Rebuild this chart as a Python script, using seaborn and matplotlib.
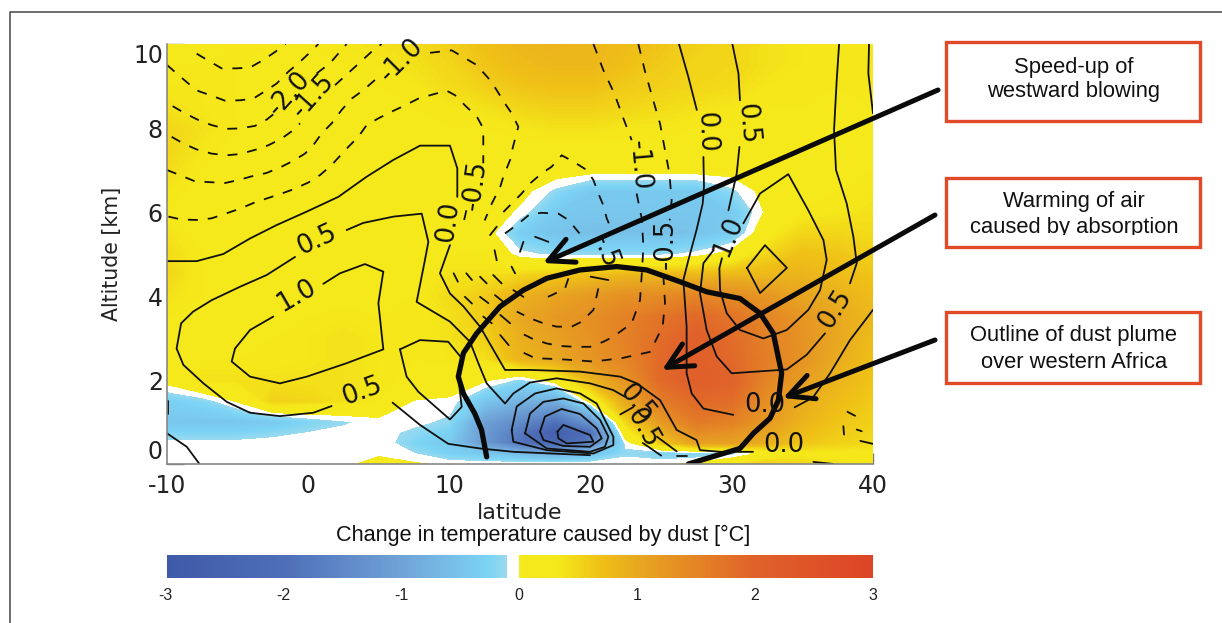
import numpy as np
import matplotlib
matplotlib.use("Agg")
import matplotlib.pyplot as plt
import seaborn as sns
from matplotlib.colors import LinearSegmentedColormap
from matplotlib.patches import Rectangle

# eixos do campo de temperatura
lat = [-10, -7.5, -5, -2.5, 0, 2.5, 5, 7.5, 10, 12.5, 15, 17.5, 20, 22.5, 25, 27.5, 30, 32.5, 35, 37.5, 40]
alt = [0, 0.25, 0.5, 0.75, 1, 1.5, 2, 2.5, 3, 3.5, 4, 4.5, 5, 5.5, 6, 6.5, 7, 7.5, 8, 8.5, 9, 9.5, 10]

# variacao de temperatura por altitude
t_00 = [-.05, -.05, -.05, -.05, -.05, -.03, .05, .03, -.05, -.05, -.05, -.05, -.05, -.05, -.05, .05, .35, .6, .5, .4, .35]
t_02 = [-.05, -.05, -.05, -.03, -.02, -.04, -.02, -.15, -.35, -.5, -.7, -.9, -.6, -.2, -.3, -.3, -.25, .1, .3, .3, .3]
t_05 = [-.1, -.1, -.1, -.05, -.01, -.02, -.03, -.3, -.45, -1.2, -1.9, -2.4, -1.7, -.1, .6, 1.1, 1.1, .9, .65, .55, .45]
t_07 = [-.3, -.3, -.3, -.25, -.15, -.1, -.08, -.2, -.35, -1.2, -1.8, -2.8, -2.0, .25, .9, 1.4, 1.3, 1.05, .75, .6, .5]
t_10 = [-.5, -.5, -.5, -.45, -.3, -.18, -.08, -.1, -.2, -1.1, -1.5, -2.0, -1.3, .5, 1.2, 1.65, 1.55, 1.2, .85, .65, .55]
t_15 = [-.35, -.25, .03, .55, .5, .4, .3, -.01, -.05, -.5, -.8, -.9, .1, 1.0, 1.6, 1.9, 1.85, 1.35, .95, .75, .6]
t_20 = [.1, .4, .4, .4, .4, .4, .35, .25, .2, .05, -.2, .15, .8, 1.3, 1.9, 2.1, 2.0, 1.5, 1.15, .85, .65]
t_25 = [.2, .3, .3, .3, .35, .4, .35, .3, .35, .4, .85, 1.0, 1.25, 1.5, 1.9, 2.1, 1.9, 1.6, 1.3, .95, .7]
t_30 = [.25, .25, .25, .3, .35, .4, .35, .3, .4, .55, .9, 1.1, 1.3, 1.55, 1.85, 2.05, 1.85, 1.55, 1.3, 1.0, .75]
t_35 = [.3, .25, .25, .25, .3, .35, .3, .3, .4, .6, 1.0, 1.2, 1.35, 1.55, 1.75, 1.9, 1.75, 1.5, 1.25, 1.0, .8]
t_40 = [.4, .3, .25, .2, .2, .25, .25, .3, .45, .6, .9, 1.05, 1.2, 1.35, 1.4, 1.5, 1.4, 1.25, 1.05, .9, .75]
t_45 = [.5, .3, .25, .2, .2, .2, .2, .25, .4, .4, .5, .6, .7, .8, .8, .8, .8, .8, .85, .75, .65]
t_50 = [.45, .3, .2, .2, .2, .2, .2, .2, .3, .3, -.1, -.2, -.2, -.2, -.2, -.1, .1, .5, .7, .65, .55]
t_55 = [.4, .25, .2, .15, .15, .15, .15, .15, .2, .15, -.4, -.55, -.6, -.6, -.6, -.55, -.4, .25, .5, .5, .45]
t_60 = [.3, .2, .2, .15, .15, .15, .15, .15, .15, .2, -.05, -.45, -.5, -.5, -.5, -.5, -.45, .05, .3, .35, .4]
t_65 = [.35, .25, .2, .15, .15, .15, .15, .15, .15, .2, .1, -.2, -.45, -.45, -.45, -.45, -.2, .1, .25, .3, .35]
t_70 = [.45, .3, .2, .15, .15, .15, .15, .15, .15, .15, .15, .15, .1, .1, .1, .1, .1, .15, .2, .25, .3]
t_75 = [.5, .35, .25, .2, .15, .15, .15, .2, .2, .2, .25, .25, .25, .25, .25, .25, .2, .2, .2, .25, .3]
t_80 = [.5, .4, .3, .2, .15, .15, .2, .25, .3, .3, .35, .4, .4, .35, .35, .3, .3, .25, .25, .25, .3]
t_85 = [.4, .35, .3, .2, .2, .2, .25, .3, .35, .4, .5, .55, .55, .5, .45, .4, .35, .3, .3, .25, .3]
t_90 = [.35, .35, .3, .25, .2, .25, .3, .35, .45, .55, .65, .7, .7, .6, .55, .5, .45, .35, .3, .3, .3]
t_95 = [.3, .3, .3, .25, .25, .3, .35, .4, .5, .65, .75, .8, .8, .7, .6, .5, .5, .4, .35, .3, .3]
t_100 = [.25, .25, .3, .3, .3, .35, .4, .45, .55, .7, .8, .85, .8, .75, .65, .55, .5, .4, .35, .3, .3]

# contornos tracejados (latitude, altitude)
dash_a = [(-7.9, 9.77), (-6.95, 9.58), (-6.13, 9.42), (-5.11, 9.42), (-4.12, 9.44), (-3.18, 9.62), (-2.35, 9.81), (-1.6, 10)]
dash_b = [(-10, 9.5), (-9.32, 9.3), (-8.49, 9.06), (-7.78, 8.88), (-6.84, 8.77), (-5.89, 8.65), (-4.83, 8.66), (-3.89, 8.7), (-2.94, 8.9), (-2.23, 9.06), (-1.41, 9.34), (-0.7, 9.54), (0, 9.76), (0.72, 10)]
dash_c = [(-9.6, 8.52), (-8.73, 8.35), (-7.78, 8.19), (-6.84, 8.07), (-5.82, 7.98), (-4.83, 7.99), (-3.77, 8.05), (-2.94, 8.2), (-2.23, 8.39)]
dash_c2 = [(0.6, 9.3), (1.54, 9.54), (2.72, 10)]
dash_d = [(-9.67, 7.79), (-8.84, 7.63), (-7.9, 7.49), (-6.84, 7.39), (-5.77, 7.35), (-4.83, 7.38), (-3.65, 7.49), (-2.82, 7.59), (-1.88, 7.75), (-1.05, 7.95), (-0.58, 8.11)]
dash_d2 = [(1.9, 9.02), (3.2, 9.42), (4.5, 9.82), (5.2, 10)]
dash_e = [(-10, 7.0), (-8.96, 6.86), (-8.02, 6.73), (-6.95, 6.71), (-5.89, 6.69), (-4.95, 6.76), (-3.89, 6.86), (-2.94, 6.93), (-1.88, 7.08), (-1.05, 7.22), (-0.23, 7.39), (0.36, 7.59), (0.95, 7.87), (1.66, 8.11), (2.37, 8.43), (3.08, 8.7), (3.9, 8.9), (4.85, 9.18)]
dash_e2 = [(8.63, 9.79), (10.16, 9.85), (11.93, 9.5), (12.88, 9.14), (13.35, 8.9), (13.94, 8.58), (14.41, 8.35), (14.88, 8.03), (14.5, 7.55), (14.3, 7.24), (13.82, 6.84), (13.6, 6.6), (13, 6.2), (12.5, 5.8)]
dash_f = [(-9.9, 5.89), (-8.96, 5.82), (-7.78, 5.81), (-6.84, 5.85), (-5.77, 5.97), (-4.83, 6.08), (-3.77, 6.23), (-1.88, 6.44), (-1.05, 6.54), (0, 6.7), (0.84, 6.88), (1.66, 7.12), (2.84, 7.55), (3.55, 7.79), (4.14, 8.07), (4.97, 8.23), (5.91, 8.39), (6.74, 8.52), (7.8, 8.7), (8.63, 8.78), (9.8, 8.89), (10.4, 8.78), (11.22, 8.5), (11.93, 8.28), (12.4, 7.99), (12.4, 7.16)]
dash_f2 = [(11.2, 6.04), (10.9, 5.6)]
dash_g = [(20.2, 10), (20.9, 9.38), (21.68, 8.82), (22.32, 8.23), (22.91, 7.71)]
dash_g2 = [(23.26, 6.44), (23.62, 5.85), (23.74, 5.17), (23.62, 4.5), (23.5, 3.9), (22.91, 3.35), (21.6, 3.03), (20.9, 2.91), (19.96, 2.79), (18.9, 2.79), (17.84, 2.81), (16.89, 2.87), (15.83, 2.99), (15.12, 3.11)]
dash_h = [(23.38, 10), (23.86, 9.34), (24.4, 8.7), (24.92, 8.1), (25.27, 7.47), (25.58, 6.92), (25.74, 6.28), (25.6, 5.8)]
dash_h2 = [(25.15, 4.5), (25.27, 3.83), (25.1, 3.27), (24.21, 2.67), (22.2, 2.52), (20.2, 2.44), (18.07, 2.49), (16.07, 2.52), (15.12, 2.67)]
dash_i = [(13.82, 6.0), (15.12, 6.44), (15.71, 6.68), (16.54, 6.92), (17.25, 7.08), (17.95, 7.35), (18.78, 7.2), (19.72, 7.0), (20.2, 6.76), (20.55, 6.44), (20.9, 6.16), (21.14, 5.85), (21.5, 5.57)]
dash_i2 = [(20.55, 4.18), (20.2, 3.67), (19.37, 3.39), (18.66, 3.27), (17.6, 3.27), (16.66, 3.35), (15.71, 3.47), (14.77, 3.63)]
dash_j = [(13.94, 5.49), (14.77, 5.69), (15.71, 5.95), (16.54, 5.98), (17.72, 5.96), (18.43, 5.81), (19.02, 5.57), (19.6, 5.33)]
dash_j2 = [(18.43, 4.42), (18.19, 4.18), (17.25, 4.02), (16.42, 3.9)]
dash_n = [(38.15, 1.25), (39.0, 1.1)]

# tracinhos soltos na regiao da pluma
tr_01 = [(10.3, 4.54), (10.6, 4.34)]
tr_02 = [(11.2, 4.54), (11.6, 4.38)]
tr_03 = [(12.17, 4.46), (12.64, 4.3)]
tr_04 = [(13.1, 4.5), (13.7, 4.3)]
tr_05 = [(14.4, 4.7), (14.65, 4.54)]
tr_06 = [(11.1, 3.98), (11.6, 3.82)]
tr_07 = [(12.17, 3.98), (12.76, 3.83)]
tr_08 = [(13.23, 4.02), (13.82, 3.86)]
tr_09 = [(14.53, 4.14), (15.24, 3.98)]
tr_10 = [(12.4, 3.51), (13, 3.35)]
tr_11 = [(13.6, 3.55), (14.3, 3.35)]
tr_12 = [(13.6, 3.07), (14.2, 2.83)]
tr_13 = [(15.24, 5.29), (15.0, 5.05)]
tr_14 = [(13.2, 5.09), (13.35, 4.85)]
tr_15 = [(12.88, 5.45), (13.35, 5.65)]
tr_16 = [(20, 4.46), (21.26, 4.38)]
tr_17 = [(16.07, 5.41), (17.01, 5.29)]
tr_18 = [(37.9, 0.9), (37.95, 0.7)]
tr_19 = [(38.85, 0.82), (39.2, 0.78)]
tr_20 = [(39.1, 0.55), (40, 0.48)]
tr_21 = [(34.45, 1.35), (35.4, 1.52)]
tr_22 = [(-9.95, 1.5), (-9.95, 1.2)]

# contornos continuos
cont_a = [(-10, 4.83), (-7.9, 4.83), (-6.01, 5.0), (-4.12, 5.37), (-2.23, 5.69), (-0.1, 6.01), (2.13, 6.36), (4.14, 6.84), (6.03, 7.24), (7.92, 7.58), (10.04, 7.58), (10.56, 7.04), (10.56, 6.36)]
cont_b = [(10.04, 5.21), (9.33, 4.54), (10.04, 4.06), (11.0, 3.75), (12.17, 3.27), (13.94, 2.24), (15.71, 2.24), (19.25, 2.2), (22.1, 2.08), (23.27, 1.92), (24.92, 1.52), (26.1, 0.81), (27.5, 0.57), (27.75, 0.33), (29.17, 0.29), (31.5, 0.29)]
cont_c = [(2.72, 5.57), (3.9, 5.74), (6.03, 5.89), (8.04, 5.96), (8.51, 5.29), (8.27, 4.86), (7.68, 3.86), (10.04, 3.39), (11.46, 2.91), (12.05, 2.4), (12.64, 1.92), (13.94, 1.44), (14.53, 1.68), (15.71, 1.94), (17.6, 2.04), (19.96, 1.92), (21.6, 1.76), (22.44, 1.6)]
cont_e = [(-0.93, 4.93), (-2.94, 4.5), (-4.83, 4.22), (-6.84, 3.9), (-8.14, 3.63), (-9.0, 3.35), (-9.32, 2.75), (-8.84, 2.36), (-7.42, 1.92), (-5.77, 1.48), (-4.12, 1.22), (-2, 1.14), (0.36, 1.22), (1.66, 1.38)]
cont_f = [(1.07, 4.29), (2.25, 4.54), (4.02, 4.76), (5.32, 4.58), (4.97, 3.83), (5.32, 2.73), (2.72, 2.4), (-0.1, 2.08), (-2, 1.92), (-4.12, 2.08), (-5.42, 2.44), (-5.18, 2.75), (-4.12, 3.19), (-2.47, 3.51)]
cont_g = [(6.5, 2.73), (7.92, 2.95), (9.92, 2.91), (10.87, 2.52), (10.63, 2.08), (10.87, 1.36), (10.04, 1.06), (7.8, 1.72), (6.97, 2.08), (6.5, 2.73)]
cont_h = [(5.98, 1.46), (7.92, 0.93), (9.92, 0.48), (12.17, 0.37), (14.53, 0.29), (19.96, 0.21)]
cont_i = [(-10, 0.73), (-8.6, 0.41), (-7.7, 0)]
cont_j = [(26.26, 10), (26.92, 9.22), (27.52, 8.43)]
cont_k = [(27.99, 7.31), (28.03, 6.6), (27.94, 6.2), (27.5, 5.57), (26.92, 4.85), (26.57, 4.38), (26.8, 3.27), (26.8, 2.16), (27.16, 1.68), (27.99, 1.32), (30.11, 1.17)]
cont_l = [(30.04, 10), (30.47, 9.3), (30.58, 8.66)]
cont_m = [(30.54, 7.55), (30.35, 6.92), (29.76, 6.04)]
cont_n = [(28.7, 5.09), (27.99, 4.78), (27.75, 4.06), (28.22, 3.19), (28.93, 2.56), (29.99, 2.16), (33.89, 2.25), (35.3, 2.6), (36.6, 3.11)]
cont_o = [(38.37, 4.3), (38.85, 4.78), (38.61, 5.41), (38.14, 6.2), (37.38, 7.0), (37.24, 7.95), (37.43, 9.14), (37.6, 10)]
cont_p = [(30.82, 5.73), (32.0, 6.44), (34.0, 6.9), (35.42, 6.04), (36.49, 5.33), (36.72, 4.86), (36.25, 4.14), (35.42, 3.67), (33.89, 3.19), (32.24, 2.99), (30.58, 3.19), (29.64, 3.59), (29.17, 4.14), (29.12, 4.66), (29.3, 4.9)]
cont_q = [(31.08, 4.67), (32.35, 5.21), (33.9, 4.67), (32.0, 4.07), (31.08, 4.67)]
cont_r = [(39.72, 10), (39.67, 9.3), (40, 8.35)]
cont_s = [(40, 3.67), (38.37, 2.95), (36.96, 2.16), (35.78, 1.6)]
cont_t = [(35.78, 0.05), (37.2, 0)]
cont_u = [(22.1, 1.18), (23.0, 1.35)]
cont_v = [(24.7, 0.65), (26.1, 0.3)]
cont_w = [(23.7, 0.5), (25.0, 0.2)]
cont_x = [(26.1, 0.2), (26.8, 0.2)]
anel_b = [(14.41, 0.81), (14.77, 1.37), (16.07, 1.68), (17.6, 1.8), (19.25, 1.68), (20.43, 1.44), (21.61, 0.65), (21.61, 0.45), (20.2, 0.25), (16.89, 0.33), (14.53, 0.53), (14.41, 0.81)]
anel_c = [(15.36, 0.73), (15.71, 1.2), (16.66, 1.48), (18.07, 1.56), (19.49, 1.44), (20.67, 1.05), (21.26, 0.65), (21.02, 0.41), (19.96, 0.29), (16.89, 0.37), (15.36, 0.73)]
anel_d = [(16.42, 0.77), (16.77, 1.13), (17.95, 1.31), (19.25, 1.19), (20.43, 0.85), (20.79, 0.61), (19.96, 0.41), (18.07, 0.43), (16.66, 0.57), (16.42, 0.77)]
anel_e = [(17.65, 0.77), (18.07, 0.93), (19.96, 0.69), (20.2, 0.53), (18.31, 0.49), (17.72, 0.61), (17.65, 0.77)]

# contorno da pluma de poeira
pluma = [(12.64, 0.17), (12.28, 0.81), (11.8, 1.2), (10.99, 1.68), (10.63, 2.08), (10.99, 2.64), (11.93, 3.11), (13.59, 3.75), (15.24, 4.14), (16.89, 4.42), (19.25, 4.62), (21.85, 4.7), (23.97, 4.62), (26.33, 4.34), (28.22, 4.1), (30.58, 3.94), (32.0, 3.59), (32.94, 3.11), (33.53, 2.16), (33.3, 1.52), (32.71, 1.09), (31.53, 0.73), (30.58, 0.37), (26.92, 0)]

# rotulos dos contornos
rot_textos = ["-2.0", "-1.5", "-1.0", "-0.5", "0.0", "0.5", "1.0", "0.5", "-1.0", "0.0", "0.5", "-0.5", "-.5", "1.0", "0.5", "0.0", "0.0", "0.5", "0.5"]
rot_lat = [-1.3, 0.36, 6.6, 11.8, 9.9, 0.6, -0.8, 3.8, 23.4, 28.2, 31.05, 25.3, 21.0, 29.76, 37.3, 32.35, 33.65, 23.3, 23.7]
rot_alt = [8.82, 8.78, 9.62, 6.64, 5.77, 5.33, 4.02, 1.72, 7.1, 7.9, 8.1, 5.25, 5.05, 5.41, 3.7, 1.4, 0.45, 1.45, 0.85]
rot_ang = [48, 48, 45, 82, 82, 25, 30, 20, -85, -88, -85, 90, -70, 68, 58, 0, 0, -50, -60]

x_ticks = [-10, 0, 10, 20, 30, 40]
y_ticks = [0, 2, 4, 6, 8, 10]
cbar_ticks = [-3, -2, -1, 0, 1, 2, 3]

caixas = ["Speed-up of\nwestward blowing", "Warming of air\ncaused by absorption", "Outline of dust plume\nover western Africa"]

W, H = 1222, 623


def fx(px):
    return px / W


def fy(py):
    return 1 - py / H


# mapa de cores com a faixa branca logo abaixo de zero
stops = [(-3, "#3f5aa8"), (-2, "#4f6fb8"), (-1, "#71a5d9"), (-0.3, "#7cd4f4"), (-0.15, "#9ad9ef"),
         (-0.15, "#ffffff"), (0, "#ffffff"), (0, "#f5ea1d"), (0.35, "#f5e71a"), (0.7, "#efc017"), (1, "#e8a820"),
         (2, "#e0622a"), (3, "#dc4526")]
cmap = LinearSegmentedColormap.from_list("dust", [((v + 3) / 6, c) for v, c in stops], N=1200)

sns.set_theme(style="ticks")
plt.rcParams["font.family"] = ["DejaVu Sans"]
plt.rcParams["axes.unicode_minus"] = False

fig = plt.figure(figsize=(W / 100, H / 100), dpi=100)
ax = fig.add_axes([fx(167), fy(464), 706 / W, 420 / H])

temp = np.array([t_00, t_02, t_05, t_07, t_10, t_15, t_20, t_25, t_30, t_35, t_40, t_45, t_50,
                 t_55, t_60, t_65, t_70, t_75, t_80, t_85, t_90, t_95, t_100])
ax.contourf(lat, alt, temp, levels=np.arange(-3, 3.001, 0.025), cmap=cmap, vmin=-3, vmax=3)

dashed = [dash_a, dash_b, dash_c, dash_c2, dash_d, dash_d2, dash_e, dash_e2, dash_f, dash_f2, dash_g, dash_g2,
          dash_h, dash_h2, dash_i, dash_i2, dash_j, dash_j2, dash_n]
solid = [cont_a, cont_b, cont_c, cont_e, cont_f, cont_g, cont_h, cont_i, cont_j, cont_k, cont_l, cont_m, cont_n,
         cont_o, cont_p, cont_q, cont_r, cont_s, cont_t, cont_u, cont_v, cont_w, cont_x, anel_b, anel_c, anel_d, anel_e,
         tr_01, tr_02, tr_03, tr_04, tr_05, tr_06, tr_07, tr_08, tr_09, tr_10, tr_11, tr_12, tr_13, tr_14, tr_15,
         tr_16, tr_17, tr_18, tr_19, tr_20, tr_21, tr_22]

for c in dashed:
    sns.lineplot(x=[p[0] for p in c], y=[p[1] for p in c], sort=False, estimator=None, color="#111111",
                 linewidth=1.3, linestyle=(0, (5.5, 5.5)), legend=False, ax=ax)
for c in solid:
    sns.lineplot(x=[p[0] for p in c], y=[p[1] for p in c], sort=False, estimator=None, color="#111111",
                 linewidth=1.3, legend=False, ax=ax)
sns.lineplot(x=[p[0] for p in pluma], y=[p[1] for p in pluma], sort=False, estimator=None, color="#0a0a0a",
             linewidth=3.8, legend=False, ax=ax)

for txt, a, b, r in zip(rot_textos, rot_lat, rot_alt, rot_ang):
    ax.text(a, b, txt, rotation=r, ha="center", va="center", fontsize=18.5, color="#111111", rotation_mode="anchor")

ax.set_xlim(-10, 40)
ax.set_ylim(0, 10)
ax.set_xticks(x_ticks)
ax.set_yticks(y_ticks)
ax.set_yticks(np.arange(0, 10.01, 0.5), minor=True)
ax.tick_params(axis="both", which="major", direction="in", length=8, width=1, color="#777777", labelsize=17, labelcolor="#222222")
ax.tick_params(axis="y", which="major", length=12, pad=3)
ax.tick_params(axis="x", which="major", pad=7)
ax.tick_params(axis="y", which="minor", direction="in", length=5, width=1, color="#777777")
# no original o 0 e o 10 ficam puxados para dentro do eixo
ax.get_yticklabels()[0].set_va("bottom")
ax.get_yticklabels()[-1].set_va("top")
ax.set_xlabel("latitude", fontsize=16, color="#222222", labelpad=4)
ax.set_ylabel("Altitude [km]", fontsize=14.8, color="#222222", labelpad=8)
for s in ["top", "right"]:
    ax.spines[s].set_visible(False)
for s in ["left", "bottom"]:
    ax.spines[s].set_color("#888888")
    ax.spines[s].set_linewidth(1.2)

# barra de cores
ax_azul = fig.add_axes([fx(167), fy(578), 340 / W, 23 / H])
sns.heatmap(np.linspace(-3, -0.16, 120).reshape(1, -1), cmap=cmap, vmin=-3, vmax=3, cbar=False,
            xticklabels=False, yticklabels=False, ax=ax_azul)
ax_amar = fig.add_axes([fx(519), fy(578), 354 / W, 23 / H])
sns.heatmap(np.linspace(0.01, 3, 120).reshape(1, -1), cmap=cmap, vmin=-3, vmax=3, cbar=False,
            xticklabels=False, yticklabels=False, ax=ax_amar)
for t in cbar_ticks:
    fig.text(fx(519 + t * 118), fy(595), str(t), ha="center", va="center", fontsize=11.5,
             family="Liberation Sans", color="#222222")
fig.text(fx(543), fy(535), "Change in temperature caused by dust [°C]", ha="center", va="center",
         fontsize=15.6, family="Liberation Sans", color="#111111")

# caixas de texto
for t0, t1 in [(42, 121), (178, 247), (312, 383)]:
    fig.add_artist(Rectangle((fx(946), fy(t1)), 254 / W, (t1 - t0) / H, transform=fig.transFigure,
                             facecolor="white", edgecolor="#e04a28", linewidth=2.4, zorder=1))
for py, txt in zip([67, 92, 202, 227, 335, 362], [l for c in caixas for l in c.split("\n")]):
    fig.text(fx(1074), fy(py), txt, ha="center", va="center", fontsize=15.8, family="Liberation Sans", color="#111111")
# no original a segunda linha da caixa do meio esta cortada em baixo
fig.add_artist(Rectangle((fx(960), fy(244)), 228 / W, 9 / H, transform=fig.transFigure,
                         facecolor="white", edgecolor="none", zorder=5))

# setas
for (x0, y0), (x1, y1) in [((938, 90), (543, 263)), ((935, 215), (662, 370)), ((935, 340), (783, 398))]:
    ax.annotate("", xy=(fx(x1), fy(y1)), xytext=(fx(x0), fy(y0)), xycoords="figure fraction",
                textcoords="figure fraction", annotation_clip=False,
                arrowprops=dict(arrowstyle="->,head_length=0.9,head_width=0.45", color="#0a0a0a", lw=3.6,
                                mutation_scale=20, shrinkA=0, shrinkB=0))

# moldura da pagina
fig.add_artist(plt.Line2D([fx(10), fx(10), fx(1222)], [fy(623), fy(12), fy(12)], color="#555555", lw=1.2, transform=fig.transFigure))

fig.savefig("out.png", dpi=100)
